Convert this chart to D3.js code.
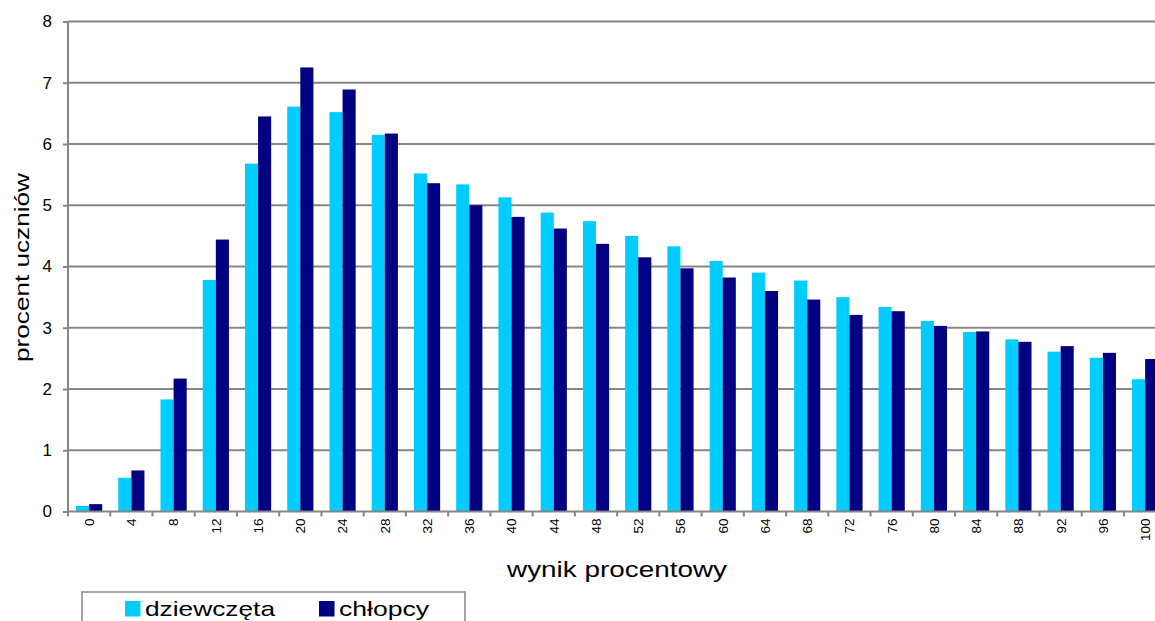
<!DOCTYPE html>
<html><head><meta charset="utf-8">
<script src="https://cdn.jsdelivr.net/npm/d3@7"></script>
<style>
html,body{margin:0;padding:0;background:#fff;}
svg{display:block;font-family:"Liberation Sans",Arial,sans-serif;}
</style></head>
<body>
<svg id="chart" width="1155" height="621"></svg>
<script>
const categories = ["0","4","8","12","16","20","24","28","32","36","40","44","48","52","56","60","64","68","72","76","80","84","88","92","96","100"];
const seriesNames = ["dziewczęta","chłopcy"];
const dziewczeta = [0.09,0.55,1.83,3.78,5.68,6.61,6.52,6.15,5.52,5.34,5.13,4.88,4.74,4.50,4.33,4.09,3.90,3.77,3.50,3.34,3.11,2.93,2.81,2.61,2.51,2.16];
const chlopcy    = [0.12,0.67,2.17,4.44,6.45,7.25,6.89,6.17,5.36,5.00,4.81,4.62,4.37,4.15,3.97,3.82,3.60,3.46,3.21,3.27,3.03,2.94,2.77,2.70,2.59,2.49];
const yTicks = [0,1,2,3,4,5,6,7,8];
const colors = ["#00CCFF","#000080"];

(function(){
const svg = d3.select("#chart");
const mLeft = 68, mBottom = 511.5, mTop = 21.5;
const step = 42.24;
const mRight = mLeft + categories.length * step;

const x = d3.scaleBand().domain(categories).range([mLeft, mRight]).paddingInner(0.38).paddingOuter(0.19);
const xs = d3.scaleBand().domain(seriesNames).range([0, x.bandwidth()]);
const y = d3.scaleLinear().domain([0, 8]).range([mBottom, mTop]);

const grid = "#868686";

// gridlines
svg.append("g").selectAll("line").data(yTicks.filter(d => d > 0)).join("line")
  .attr("x1", mLeft).attr("x2", 1155)
  .attr("y1", d => y(d)).attr("y2", d => y(d))
  .attr("stroke", grid).attr("stroke-width", 2);

// bars
const data = categories.map((c, i) => ({c, vals: [dziewczeta[i], chlopcy[i]]}));
const groups = svg.append("g").selectAll("g").data(data).join("g")
  .attr("transform", d => `translate(${x(d.c)},0)`);
groups.selectAll("rect").data(d => d.vals.map((v, j) => ({name: seriesNames[j], v, j}))).join("rect")
  .attr("x", d => xs(d.name))
  .attr("width", xs.bandwidth())
  .attr("y", d => y(d.v))
  .attr("height", d => y(0) - y(d.v))
  .attr("fill", d => colors[d.j]);

// y axis
const yAxis = d3.axisLeft(y).tickValues(yTicks).tickSize(5).tickPadding(11).tickFormat(d3.format("d"));
const gy = svg.append("g").attr("transform", `translate(${mLeft},0)`).call(yAxis);
gy.select(".domain").attr("stroke", grid).attr("stroke-width", 2).attr("d", `M0,${mTop}V${mBottom}`);
gy.selectAll(".tick line").attr("stroke", grid).attr("stroke-width", 2);
gy.selectAll(".tick text").attr("font-size", 17).attr("fill", "#000")
  .attr("font-family", "'Liberation Sans',Arial,sans-serif");

// x axis
const xAxis = d3.axisBottom(x).tickSize(0).tickPadding(0);
const gx = svg.append("g").attr("transform", `translate(0,${mBottom})`).call(xAxis);
gx.select(".domain").attr("stroke", grid).attr("stroke-width", 2).attr("d", `M${mLeft},0H1155`);
gx.selectAll(".tick text")
  .attr("font-size", 13.5).attr("fill", "#000")
  .attr("font-family", "'Liberation Sans',Arial,sans-serif")
  .attr("text-anchor", "end")
  .attr("transform", "translate(0,7) rotate(-90)")
  .attr("x", 0).attr("y", 0).attr("dy", "0.36em");
// boundary tick marks
const bounds = d3.range(categories.length + 1).map(i => mLeft + i * step);
svg.append("g").selectAll("line").data(bounds).join("line")
  .attr("x1", d => d).attr("x2", d => d)
  .attr("y1", mBottom).attr("y2", mBottom + 5)
  .attr("stroke", grid).attr("stroke-width", 2);

// axis titles
svg.append("text").text("wynik procentowy")
  .attr("x", 617).attr("y", 577).attr("text-anchor", "middle")
  .attr("font-size", 22).attr("textLength", 220).attr("lengthAdjust", "spacingAndGlyphs").attr("fill", "#000");
svg.append("text").text("procent uczniów")
  .attr("transform", "translate(29,267.5) rotate(-90)")
  .attr("text-anchor", "middle")
  .attr("font-size", 20).attr("textLength", 189).attr("lengthAdjust", "spacingAndGlyphs").attr("fill", "#000");

// legend
const lg = svg.append("g");
lg.append("rect").attr("x", 82).attr("y", 592).attr("width", 383).attr("height", 60)
  .attr("fill", "#fff").attr("stroke", grid).attr("stroke-width", 1.5);
const legendItems = [
  {name: seriesNames[0], sx: 125, tx: 145, tl: 130},
  {name: seriesNames[1], sx: 319, tx: 339, tl: 90}
];
legendItems.forEach((d, i) => {
  lg.append("rect").attr("x", d.sx).attr("y", 601).attr("width", 15.5).attr("height", 15.5).attr("fill", colors[i]);
  lg.append("text").text(d.name).attr("x", d.tx).attr("y", 616)
    .attr("font-size", 21).attr("textLength", d.tl).attr("lengthAdjust", "spacingAndGlyphs").attr("fill", "#000");
});
})();
</script>
</body></html>
